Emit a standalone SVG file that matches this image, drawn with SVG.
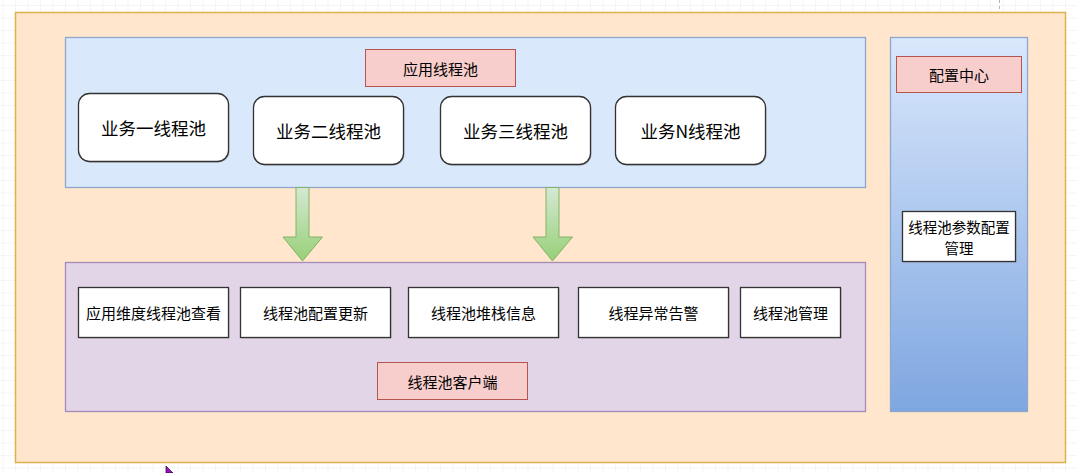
<svg xmlns="http://www.w3.org/2000/svg" width="1077" height="473" viewBox="0 0 1077 473">
<defs>
<pattern id="grid" x="2.5" y="5" width="12.5" height="12.5" patternUnits="userSpaceOnUse">
<path d="M0 0H12.5M0 0V12.5" fill="none" stroke="#ececec" stroke-width="1"/>
</pattern>
<linearGradient id="gBlue" x1="0" y1="0" x2="0" y2="1">
<stop offset="0" stop-color="#dae8fc"/>
<stop offset="1" stop-color="#7ea6e0"/>
</linearGradient>
<linearGradient id="gGreen" x1="0" y1="0" x2="0" y2="1">
<stop offset="0" stop-color="#d5e8d4"/>
<stop offset="1" stop-color="#97d077"/>
</linearGradient>
</defs>
<style>
text{font-family:"Noto Sans CJK SC","Noto Sans",sans-serif;fill:#000;text-anchor:middle;dominant-baseline:central}
.t16{font-size:17.5px}
.t14{font-size:15px}
.t2{font-size:14.5px}
.red{fill:#f8cecc;stroke:#b85450;stroke-width:1}
.box{fill:#fff;stroke:#333;stroke-width:1.3}
.sh{fill:#999;opacity:0.6}
.arrow{fill:url(#gGreen);stroke:#82b366;stroke-width:1}
</style>
<rect width="1077" height="473" fill="#fff"/>
<rect width="1077" height="473" fill="url(#grid)"/>
<path d="M999.5 0V22" stroke="#b3b3b3" stroke-width="1" stroke-dasharray="3 3"/>
<g id="outer">
<rect x="15.5" y="12.5" width="1050" height="450" fill="#ffe6cc" stroke="#dcb14e" stroke-width="1.5"/>
</g>
<g id="app-pool">
<rect x="65.5" y="37.5" width="800" height="150" fill="#dae8fc" stroke="#8fa7cc" stroke-width="1.3"/>
</g>
<g id="app-pool-label">
<rect class="red" x="365.5" y="49.5" width="150" height="37"/>
<text class="t14" x="440.5" y="68">应用线程池</text>
</g>
<g id="biz1">
<rect class="sh" x="79.5" y="94.5" width="150" height="68" rx="11"/>
<rect class="box" x="78.5" y="93.5" width="150" height="68" rx="11"/>
<text class="t16" x="153.5" y="127.5">业务一线程池</text>
</g>
<g id="biz2">
<rect class="sh" x="254.5" y="97.5" width="150" height="68" rx="11"/>
<rect class="box" x="253.5" y="96.5" width="150" height="68" rx="11"/>
<text class="t16" x="328.5" y="130.5">业务二线程池</text>
</g>
<g id="biz3">
<rect class="sh" x="441.5" y="97.5" width="150" height="68" rx="11"/>
<rect class="box" x="440.5" y="96.5" width="150" height="68" rx="11"/>
<text class="t16" x="515.5" y="130.5">业务三线程池</text>
</g>
<g id="bizN">
<rect class="sh" x="616.5" y="97.5" width="150" height="68" rx="11"/>
<rect class="box" x="615.5" y="96.5" width="150" height="68" rx="11"/>
<text class="t16" x="690.5" y="130.5">业务N线程池</text>
</g>
<g id="client">
<rect x="65.5" y="262.5" width="800" height="149" fill="#e1d5e7" stroke="#a68bb8" stroke-width="1.3"/>
</g>
<g id="client-label">
<rect class="red" x="377.5" y="362.5" width="150" height="37"/>
<text class="t14" x="452.5" y="381">线程池客户端</text>
</g>
<g id="view">
<rect class="sh" x="79.5" y="288.5" width="150" height="50"/>
<rect class="box" x="78.5" y="287.5" width="150" height="50"/>
<text class="t14" x="153.5" y="312.5">应用维度线程池查看</text>
</g>
<g id="update">
<rect class="sh" x="241.5" y="288.5" width="150" height="50"/>
<rect class="box" x="240.5" y="287.5" width="150" height="50"/>
<text class="t14" x="315.5" y="312.5">线程池配置更新</text>
</g>
<g id="stack">
<rect class="sh" x="409.5" y="288.5" width="150" height="50"/>
<rect class="box" x="408.5" y="287.5" width="150" height="50"/>
<text class="t14" x="483.5" y="312.5">线程池堆栈信息</text>
</g>
<g id="alarm">
<rect class="sh" x="579.5" y="288.5" width="150" height="50"/>
<rect class="box" x="578.5" y="287.5" width="150" height="50"/>
<text class="t14" x="653.5" y="312.5">线程异常告警</text>
</g>
<g id="manage">
<rect class="sh" x="741.5" y="288.5" width="100" height="50"/>
<rect class="box" x="740.5" y="287.5" width="100" height="50"/>
<text class="t14" x="790.5" y="312.5">线程池管理</text>
</g>
<g id="config-center">
<rect x="890.5" y="37.5" width="137" height="374" fill="url(#gBlue)" stroke="#8fa7cc" stroke-width="1.3"/>
</g>
<g id="config-center-label">
<rect class="red" x="896.5" y="56.5" width="125" height="36"/>
<text class="t14" x="959" y="74.5">配置中心</text>
</g>
<g id="param-config">
<rect class="sh" x="903.5" y="212.5" width="113" height="50"/>
<rect class="box" x="902.5" y="211.5" width="113" height="50"/>
<text class="t2" x="959" y="226">线程池参数配置</text>
<text class="t2" x="959" y="247">管理</text>
</g>
<g id="connectors">
<path class="arrow" d="M296 187.5H309V237H322.5L302.5 261L283 237H296Z"/>
<path class="arrow" d="M546 187.5H559V237H572.5L552.5 261L533 237H546Z"/>
</g>
<path d="M166 466L166 473L173 473Z" fill="#a010c0" stroke="#000" stroke-width="0.6"/>
</svg>
